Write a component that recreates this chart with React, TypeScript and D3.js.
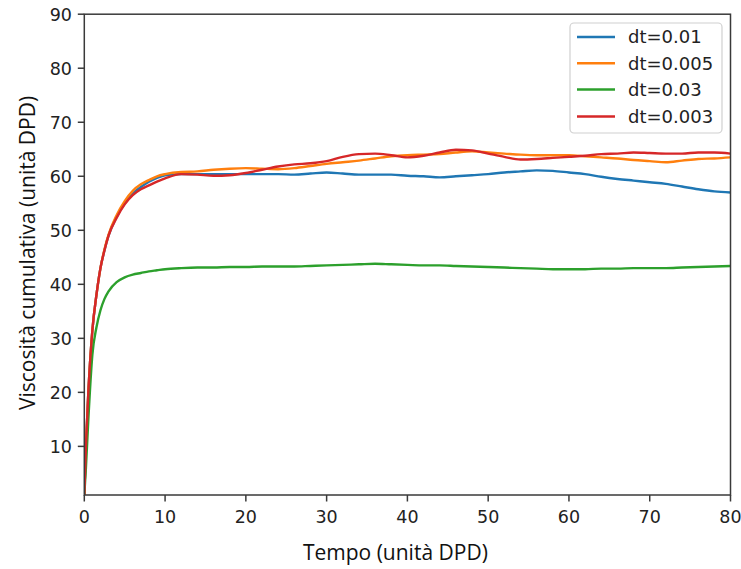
import React from "react";
import * as d3 from "d3";

const tValues = [0, 0.2, 0.5, 1, 1.5, 2, 2.5, 3, 4, 5, 6, 7, 8, 9, 10, 12, 14, 16, 18, 20, 22, 24, 26, 28, 30, 32, 34, 36, 38, 40, 42, 44, 46, 48, 50, 52, 54, 56, 58, 60, 62, 64, 66, 68, 70, 72, 74, 76, 78, 80];

const dt001 = [1, 10, 20, 31.5, 38, 43, 46.3, 49, 52.5, 55, 56.8, 58, 59, 59.7, 60.2, 60.4, 60.4, 60.4, 60.4, 60.4, 60.4, 60.4, 60.3, 60.5, 60.7, 60.5, 60.3, 60.3, 60.3, 60.1, 60.0, 59.8, 60.0, 60.2, 60.4, 60.7, 60.9, 61.1, 61.0, 60.7, 60.4, 59.9, 59.5, 59.2, 58.9, 58.6, 58.1, 57.6, 57.2, 57.0];

const dt0005 = [1, 10, 20, 31.5, 38, 43, 46.5, 49.2, 52.8, 55.4, 57.3, 58.5, 59.3, 60, 60.4, 60.8, 60.9, 61.2, 61.4, 61.5, 61.4, 61.3, 61.5, 61.9, 62.3, 62.6, 62.9, 63.3, 63.7, 63.9, 64.0, 64.1, 64.4, 64.6, 64.4, 64.2, 64.0, 63.9, 63.9, 63.9, 63.7, 63.5, 63.3, 63.0, 62.8, 62.6, 62.9, 63.2, 63.3, 63.5];

const dt003 = [1, 6, 15, 27, 32, 35.2, 37.3, 38.7, 40.4, 41.3, 41.8, 42.1, 42.4, 42.6, 42.8, 43.0, 43.1, 43.1, 43.2, 43.2, 43.3, 43.3, 43.3, 43.4, 43.5, 43.6, 43.7, 43.8, 43.7, 43.6, 43.5, 43.5, 43.4, 43.3, 43.2, 43.1, 43.0, 42.9, 42.8, 42.8, 42.8, 42.9, 42.9, 43.0, 43.0, 43.0, 43.1, 43.2, 43.3, 43.4];

const dt0003 = [1, 10, 20, 31.5, 38, 43, 46.3, 49, 52.3, 54.8, 56.5, 57.6, 58.3, 59, 59.6, 60.4, 60.3, 60.1, 60.2, 60.6, 61.2, 61.8, 62.2, 62.4, 62.8, 63.6, 64.1, 64.2, 63.9, 63.5, 63.8, 64.4, 64.9, 64.8, 64.2, 63.6, 63.1, 63.2, 63.4, 63.6, 63.8, 64.1, 64.2, 64.4, 64.3, 64.2, 64.2, 64.4, 64.4, 64.2];

const seriesNames = ["dt=0.01", "dt=0.005", "dt=0.03", "dt=0.003"];
const seriesData = [dt001, dt0005, dt003, dt0003];
const seriesColors = ["#1f77b4", "#ff7f0e", "#2ca02c", "#d62728"];

const xTicks = [0, 10, 20, 30, 40, 50, 60, 70, 80];
const yTicks = [10, 20, 30, 40, 50, 60, 70, 80, 90];

const xLabel = "Tempo (unità DPD)";
const yLabel = "Viscosità cumulativa (unità DPD)";

const W = 741;
const H = 569;
const left = 84.3;
const right = 730.5;
const top = 14.2;
const bottom = 495;

export default function App() {
  const x = d3.scaleLinear().domain([0, 80]).range([left, right]);
  const y = d3.scaleLinear().domain([1, 90]).range([bottom, top]);
  const line = d3
    .line<number>()
    .x((_, i) => x(tValues[i]))
    .y((d) => y(d))
    .curve(d3.curveMonotoneX);

  const tickFont = "'DejaVu Sans', sans-serif";
  const labelFont = "'Open Sans', 'Noto Sans', sans-serif";
  const axisColor = "#3a3a3a";

  const legX = 570;
  const legY = 23;
  const legW = 152;
  const legH = 110;
  const legRows = [37, 63.3, 89.5, 116.5];

  return (
    <svg
      width={W}
      height={H}
      style={{ position: "absolute", left: 0, top: 0, background: "#fff" }}
    >
      <defs>
        <clipPath id="plotclip">
          <rect x={left} y={top} width={right - left} height={bottom - top} />
        </clipPath>
      </defs>
      <rect x={0} y={0} width={W} height={H} fill="#fff" />
      <g clipPath="url(#plotclip)">
        {seriesData.map((s, i) => (
          <path
            key={seriesNames[i]}
            d={line(s) || ""}
            fill="none"
            stroke={seriesColors[i]}
            strokeWidth={2.4}
            strokeLinejoin="round"
            strokeLinecap="round"
          />
        ))}
      </g>
      <rect
        x={left}
        y={top}
        width={right - left}
        height={bottom - top}
        fill="none"
        stroke={axisColor}
        strokeWidth={1.5}
      />
      {xTicks.map((t) => (
        <g key={"x" + t}>
          <line x1={x(t)} x2={x(t)} y1={bottom} y2={bottom + 6.5} stroke={axisColor} strokeWidth={1.5} />
          <text
            x={x(t)}
            y={522.5}
            textAnchor="middle"
            fontFamily={tickFont}
            fontSize={17.5}
            fill="#222"
          >
            {t}
          </text>
        </g>
      ))}
      {yTicks.map((t) => (
        <g key={"y" + t}>
          <line x1={left - 6.5} x2={left} y1={y(t)} y2={y(t)} stroke={axisColor} strokeWidth={1.5} />
          <text
            x={72}
            y={y(t)}
            dy="0.36em"
            textAnchor="end"
            fontFamily={tickFont}
            fontSize={17.5}
            fill="#222"
          >
            {t}
          </text>
        </g>
      ))}
      <text
        x={(left + right) / 2 - 12}
        y={560}
        textAnchor="middle"
        fontFamily={labelFont}
        fontSize={21}
        fill="#111"
      >
        {xLabel}
      </text>
      <text
        transform={`translate(35, 253) rotate(-90)`}
        textAnchor="middle"
        fontFamily={labelFont}
        fontSize={21}
        fill="#111"
      >
        {yLabel}
      </text>
      <rect
        x={legX}
        y={legY}
        width={legW}
        height={legH}
        rx={4}
        fill="#fff"
        fillOpacity={0.8}
        stroke="#d0d0d0"
        strokeWidth={1.2}
      />
      {seriesNames.map((n, i) => (
        <g key={"leg" + n}>
          <line
            x1={577}
            x2={615}
            y1={legRows[i]}
            y2={legRows[i]}
            stroke={seriesColors[i]}
            strokeWidth={2.4}
          />
          <text
            x={628}
            y={legRows[i]}
            dy="0.36em"
            fontFamily={tickFont}
            fontSize={18}
            fill="#222"
          >
            {n}
          </text>
        </g>
      ))}
    </svg>
  );
}
